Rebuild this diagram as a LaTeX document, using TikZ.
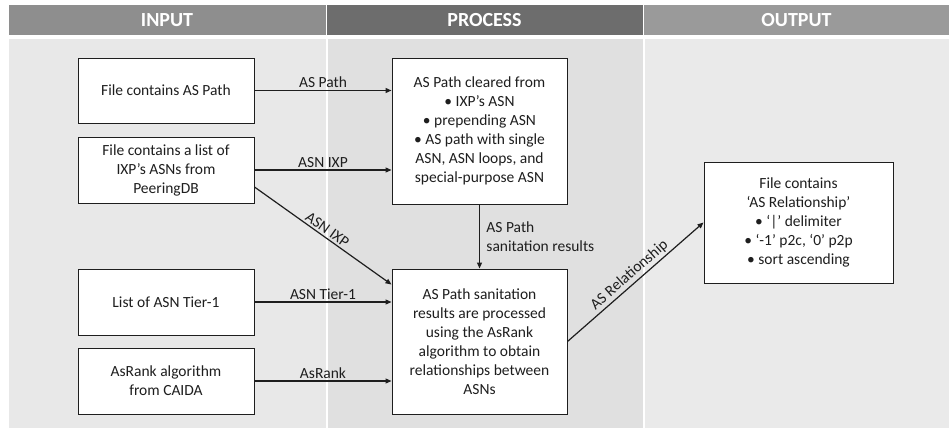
\documentclass[tikz,border=0pt]{standalone}
\usepackage{fontspec}
\setmainfont{Carlito}
\usetikzlibrary{arrows.meta,calc}
\definecolor{hin}{HTML}{8E8E8E}
\definecolor{hpr}{HTML}{6D6D6D}
\definecolor{hout}{HTML}{9A9A9A}
\definecolor{bin}{HTML}{E8E8E8}
\definecolor{bpr}{HTML}{E0E0E0}
\definecolor{bout}{HTML}{EAEAEA}
\definecolor{ink}{HTML}{1E1E1E}
\begin{document}
\begin{tikzpicture}[x=1pt,y=-1pt,
  every node/.style={font=\fontsize{15.5}{19}\selectfont, text=ink},
  hdr/.style={font=\fontsize{20}{24}\selectfont\bfseries, text=white},
  box/.style={draw=ink, line width=1pt, fill=white, align=center, inner sep=2pt},
  conn/.style={draw=ink, line width=1.2pt, -{Triangle[length=6pt,width=5pt]}},
  lbl/.style={above, inner sep=2pt}
]
\useasboundingbox (0,0) rectangle (949,428);
\fill[white] (0,0) rectangle (949,428);
% headers
\fill[hin] (9,5) rectangle (325.5,35);
\fill[hpr] (327,5) rectangle (642.5,35);
\fill[hout] (644,5) rectangle (949,35);
\node[hdr] (hIn) at (167,20) {INPUT};
\node[hdr] (hPr) at (484.5,20) {PROCESS};
\node[hdr] (hOut) at (796.5,20) {OUTPUT};
% body
\fill[bin] (9,39) rectangle (325.5,428);
\fill[bpr] (327.5,39) rectangle (642.5,428);
\fill[bout] (644.5,39) rectangle (949,428);
% boxes
\node[box, minimum width=176pt, minimum height=65pt] (in1) at (166,90.5) {File contains AS Path};
\node[box, minimum width=176pt, minimum height=66pt] (in2) at (166,170) {File contains a list of\\IXP's ASNs from\\PeeringDB};
\node[box, minimum width=176pt, minimum height=66pt] (in3) at (166,302) {List of ASN Tier-1};
\node[box, minimum width=176pt, minimum height=66pt] (in4) at (166,381) {AsRank algorithm\\from CAIDA};
\node[box, minimum width=175pt, minimum height=146pt] (p1) at (479.5,131) {AS Path cleared from\\• IXP’s ASN\\• prepending ASN\\• AS path with single\\ASN, ASN loops, and\\special-purpose ASN};
\node[box, minimum width=175pt, minimum height=145pt] (p2) at (479.5,341.5) {AS Path sanitation\\results are processed\\using the AsRank\\algorithm to obtain\\relationships between\\ASNs};
\node[box, minimum width=189pt, minimum height=121pt] (out) at (798.5,222.5) {File contains\\‘AS Relationship’\\• ‘|’ delimiter\\• ‘-1’ p2c, ‘0’ p2p\\• sort ascending};
% connectors
\draw[conn] (in1.east) -- node[lbl] {AS Path} (in1.east -| p1.west);
\draw[conn] (in2.east) -- node[lbl] {ASN IXP} (in2.east -| p1.west);
\draw[conn] ([yshift=-17pt]in2.east) -- node[lbl, sloped] {ASN IXP} ([yshift=-16pt]p2.north west);
\draw[conn] (in3.east) -- node[lbl] {ASN Tier-1} (in3.east -| p2.west);
\draw[conn] (in4.east) -- node[lbl] {AsRank} (in4.east -| p2.west);
\draw[conn] (p1.south) -- node[right, align=left, xshift=3pt] {AS Path\\sanitation results} (p2.north);
\draw[conn] (p2.east) -- node[lbl, sloped] {AS Relationship} (out.west);
\end{tikzpicture}
\end{document}
